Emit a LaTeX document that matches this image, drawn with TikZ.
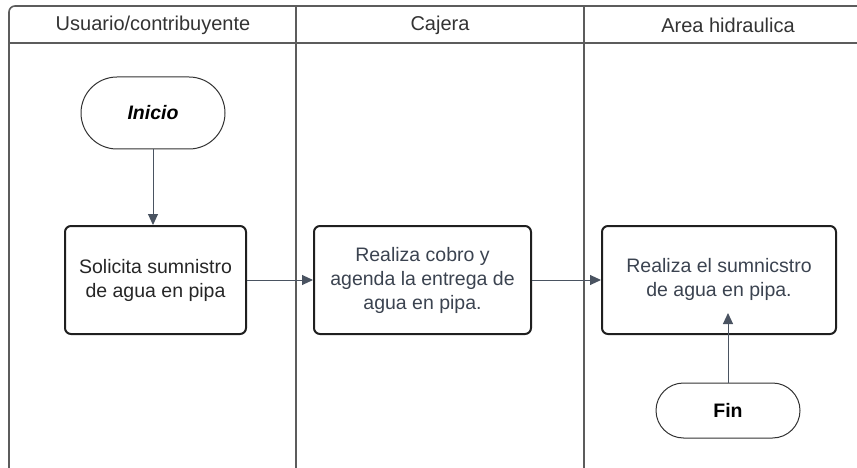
\documentclass[tikz,border=0pt]{standalone}
\usepackage{fontspec}
\setmainfont{Liberation Sans}
\usetikzlibrary{arrows.meta}
\definecolor{lanec}{HTML}{5C5C5C}
\definecolor{txtc}{HTML}{3B4350}
\definecolor{arrc}{HTML}{4A5361}
\definecolor{headc}{HTML}{333333}
\begin{document}
\begin{tikzpicture}[x=1pt,y=-1pt,
  laneline/.style={draw=lanec,line width=1.6pt},
  headtxt/.style={text=headc,font=\fontsize{20}{24}\selectfont},
  procbox/.style={draw=black!88,line width=2pt,rounded corners=6pt,align=center,
    inner sep=0pt,font=\fontsize{19.5}{24}\selectfont,text=txtc},
  termbox/.style={draw=black!80,line width=1pt,inner sep=0pt,minimum width=144pt,
    font=\fontsize{19.5}{24}\selectfont\bfseries},
  flow/.style={draw=arrc,line width=1pt,-{Triangle[length=11pt,width=10pt]}}]
\useasboundingbox (0,0) rectangle (857,468);
% swimlane frame
\draw[laneline,rounded corners=6pt] (857,6) -- (9,6) -- (9,468);
\draw[laneline] (9,43) -- (857,43);
\draw[laneline] (296,6) -- (296,468);
\draw[laneline] (584,6) -- (584,468);
% headers
\node[headtxt] (h1) at (153,25.5) {Usuario/contribuyente};
\node[headtxt] (h2) at (440,25.5) {Cajera};
\node[headtxt] (h3) at (728,25.5) {Area hidraulica};
% nodes
\node[termbox,minimum height=72pt,rounded corners=36pt] (inicio) at (153,113) {\itshape Inicio};
\node[procbox,minimum width=181pt,minimum height=108pt,text=black!85] (sol) at (155.5,280) {Solicita sumnistro\\de agua en pipa};
\node[procbox,minimum width=217pt,minimum height=108pt] (caj) at (422.5,280) {Realiza cobro y\\agenda la entrega de\\agua en pipa.};
\node[procbox,minimum width=234pt,minimum height=108pt] (area) at (719,280) {\raisebox{4pt}{\begin{tabular}{@{}c@{}}Realiza el sumnicstro\\de agua en pipa.\end{tabular}}};
\node[termbox,minimum height=55pt,rounded corners=27.5pt] (fin) at (728,410.5) {Fin};
\coordinate (fintip) at (728,313);
% connectors
\draw[flow] (inicio.south) -- (sol.north -| inicio.south);
\draw[flow] (sol.east) -- (caj.west);
\draw[flow] (caj.east) -- (area.west);
\draw[flow] (fin.north) -- (fintip);
\end{tikzpicture}
\end{document}
